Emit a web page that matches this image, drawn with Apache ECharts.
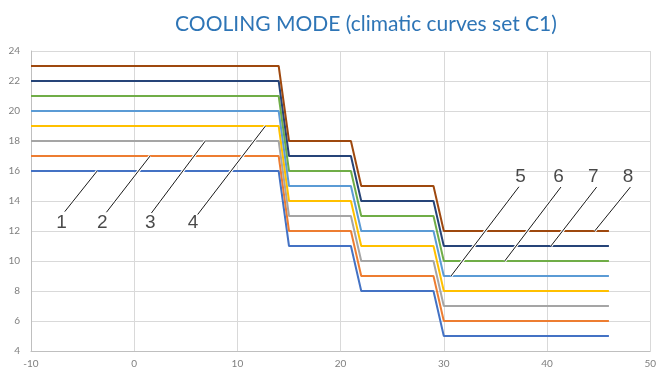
<!DOCTYPE html>
<html><head><meta charset="utf-8">
<script src="https://cdn.jsdelivr.net/npm/echarts@6/dist/echarts.min.js"></script>
<style>html,body{margin:0;padding:0;background:#fff}#c{width:659px;height:374px}</style>
</head><body><div id="c"></div>
<script>
// ---- data ----
const xBreaks = [-10, 14, 15, 21, 22, 29, 30, 46];
const curve1 = [16, 16, 11, 11, 8, 8, 5, 5];
const curve2 = [17, 17, 12, 12, 9, 9, 6, 6];
const curve3 = [18, 18, 13, 13, 10, 10, 7, 7];
const curve4 = [19, 19, 14, 14, 11, 11, 8, 8];
const curve5 = [20, 20, 15, 15, 12, 12, 9, 9];
const curve6 = [21, 21, 16, 16, 13, 13, 10, 10];
const curve7 = [22, 22, 17, 17, 14, 14, 11, 11];
const curve8 = [23, 23, 18, 18, 15, 15, 12, 12];
const curveNames = ['1', '2', '3', '4', '5', '6', '7', '8'];
const xTicks = [-10, 0, 10, 20, 30, 40, 50];
const yTicks = [4, 6, 8, 10, 12, 14, 16, 18, 20, 22, 24];
// annotation label anchors (data coordinates)
const labelX = [-7.05, -3.1, 1.55, 5.7, 37.43, 41.12, 44.49, 47.85];
const labelY = [12.53, 12.53, 12.53, 12.53, 15.6, 15.6, 15.6, 15.6];
const leaderStartX = [-6.73, -2.69, 1.67, 6.15, 37.28, 41.35, 44.81, 48.08];
const leaderStartY = [13.29, 13.25, 13.2, 13.1, 14.95, 14.93, 14.93, 14.93];
const leaderEndX = [-3.59, 1.54, 6.89, 12.72, 30.7, 35.9, 40.38, 44.62];
const leaderEndY = [16, 17, 18, 19, 9, 10, 11, 12];

const colors = ['#4472C4', '#ED7D31', '#A5A5A5', '#FFC000', '#5B9BD5', '#70AD47', '#264478', '#9E480E'];
const curves = [curve1, curve2, curve3, curve4, curve5, curve6, curve7, curve8];

const chart = echarts.init(document.getElementById('c'), null, {renderer: 'canvas'});

const series = curves.map((c, i) => ({
  name: curveNames[i],
  type: 'line',
  data: xBreaks.map((x, j) => [x, c[j]]),
  symbol: 'none',
  lineStyle: {color: colors[i], width: 2},
  itemStyle: {color: colors[i]},
  animation: false,
  z: 2
}));

const leaderData = curveNames.map((n, i) => [
  {coord: [leaderStartX[i], leaderStartY[i]]},
  {coord: [leaderEndX[i], leaderEndY[i]]}
]);

series.push({
  type: 'line', data: [], silent: true, animation: false, z: 3,
  markLine: {
    silent: true, symbol: ['none', 'none'], animation: false,
    label: {show: false},
    lineStyle: {color: '#ffffff', width: 3, type: 'solid', opacity: 1},
    emphasis: {disabled: true},
    data: leaderData
  }
});
series.push({
  type: 'line', data: [], silent: true, animation: false, z: 4,
  markLine: {
    silent: true, symbol: ['none', 'none'], animation: false,
    label: {show: false},
    lineStyle: {color: '#1a1a1a', width: 1, type: 'solid', opacity: 1},
    emphasis: {disabled: true},
    data: leaderData
  }
});
series.push({
  type: 'scatter', silent: true, animation: false, z: 5,
  symbolSize: 0,
  data: curveNames.map((n, i) => ({name: n, value: [labelX[i], labelY[i]]})),
  label: {
    show: true, position: 'inside', formatter: p => p.name,
    fontFamily: '"Liberation Sans", Arial, sans-serif', fontSize: 19, color: '#1a1a1a'
  }
});

chart.setOption({
  animation: false,
  title: {
    text: 'COOLING MODE (climatic curves set C1)',
    left: 361, top: 9, textAlign: 'center',
    textStyle: {fontFamily: 'Lato, "Open Sans", sans-serif', fontWeight: 'normal', fontSize: 21, color: '#2E75B6'}
  },
  grid: {left: 31, right: 4, top: 51, bottom: 23, containLabel: false},
  xAxis: {
    type: 'value', min: xTicks[0], max: xTicks[xTicks.length - 1], interval: 10,
    axisLine: {show: true, onZero: false, lineStyle: {color: '#BFBFBF', width: 1}},
    axisTick: {show: false},
    splitLine: {show: true, lineStyle: {color: '#D9D9D9', width: 1}},
    axisLabel: {color: '#7F7F7F', fontSize: 10, fontFamily: 'Lato, sans-serif', margin: 8}
  },
  yAxis: {
    type: 'value', min: yTicks[0], max: yTicks[yTicks.length - 1], interval: 2,
    axisLine: {show: true, onZero: false, lineStyle: {color: '#BFBFBF', width: 1}},
    axisTick: {show: false},
    splitLine: {show: true, lineStyle: {color: '#D9D9D9', width: 1}},
    axisLabel: {color: '#7F7F7F', fontSize: 10, fontFamily: 'Lato, sans-serif', margin: 11}
  },
  series: series
});
</script></body></html>
